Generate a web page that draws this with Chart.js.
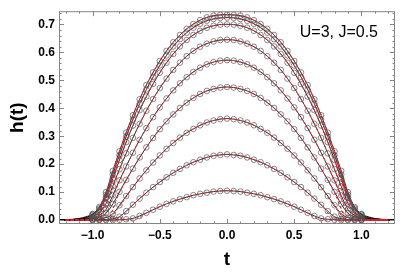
<!DOCTYPE html>
<html>
<head>
<meta charset="utf-8">
<script src="https://cdn.jsdelivr.net/npm/chart.js@4.4.1/dist/chart.umd.min.js"></script>
<style>
html, body { margin: 0; padding: 0; background: #fff; }
</style>
</head>
<body>
<canvas id="chart" width="407" height="272"></canvas>
<script>
// t grids: fine one for the black curves and circles, coarse one for the red dashed curves
const tFine = [-1.25, -1.2, -1.15, -1.1, -1.05, -1.0, -0.95, -0.9, -0.85, -0.8, -0.75, -0.7, -0.65, -0.6, -0.55, -0.5, -0.45, -0.4, -0.35, -0.3, -0.25, -0.2, -0.15, -0.1, -0.05, 0,
  0.05, 0.1, 0.15, 0.2, 0.25, 0.3, 0.35, 0.4, 0.45, 0.5, 0.55, 0.6, 0.65, 0.7, 0.75, 0.8, 0.85, 0.9, 0.95, 1.0, 1.05, 1.1, 1.15, 1.2, 1.25];
const tCoarse = [-1.2, -1.1, -1.0, -0.9, -0.8, -0.7, -0.6, -0.5, -0.4, -0.3, -0.2, -0.1, 0, 0.1, 0.2, 0.3, 0.4, 0.5, 0.6, 0.7, 0.8, 0.9, 1.0, 1.1, 1.2];

// black curves h(t), top to bottom
const h1 = [0, 0.001, 0.003, 0.006, 0.012, 0.022, 0.047, 0.100, 0.176, 0.246, 0.313, 0.375, 0.432, 0.483, 0.528, 0.569, 0.605, 0.636, 0.662, 0.684, 0.701, 0.715, 0.725, 0.731, 0.734, 0.735, 0.734, 0.731, 0.725, 0.715, 0.701, 0.684, 0.662, 0.636, 0.605, 0.569, 0.528, 0.483, 0.432, 0.375, 0.313, 0.246, 0.176, 0.100, 0.047, 0.022, 0.012, 0.006, 0.003, 0.001, 0];
const h2 = [0, 0.001, 0.002, 0.005, 0.010, 0.020, 0.042, 0.090, 0.163, 0.232, 0.299, 0.360, 0.416, 0.467, 0.512, 0.553, 0.589, 0.621, 0.647, 0.670, 0.688, 0.702, 0.713, 0.719, 0.723, 0.724, 0.723, 0.719, 0.713, 0.702, 0.688, 0.670, 0.647, 0.621, 0.589, 0.553, 0.512, 0.467, 0.416, 0.360, 0.299, 0.232, 0.163, 0.090, 0.042, 0.020, 0.010, 0.005, 0.002, 0.001, 0];
const h3 = [0, 0.001, 0.002, 0.004, 0.008, 0.017, 0.037, 0.080, 0.149, 0.215, 0.279, 0.338, 0.393, 0.442, 0.487, 0.527, 0.563, 0.594, 0.621, 0.644, 0.662, 0.677, 0.688, 0.695, 0.699, 0.700, 0.699, 0.695, 0.688, 0.677, 0.662, 0.644, 0.621, 0.594, 0.563, 0.527, 0.487, 0.442, 0.393, 0.338, 0.279, 0.215, 0.149, 0.080, 0.037, 0.017, 0.008, 0.004, 0.002, 0.001, 0];
const h4 = [0, 0, 0.001, 0.003, 0.006, 0.013, 0.028, 0.060, 0.121, 0.182, 0.239, 0.294, 0.344, 0.391, 0.433, 0.472, 0.506, 0.537, 0.563, 0.586, 0.605, 0.620, 0.631, 0.639, 0.644, 0.645, 0.644, 0.639, 0.631, 0.620, 0.605, 0.586, 0.563, 0.537, 0.506, 0.472, 0.433, 0.391, 0.344, 0.294, 0.239, 0.182, 0.121, 0.060, 0.028, 0.013, 0.006, 0.003, 0.001, 0, 0];
const h5 = [0, 0, 0.001, 0.002, 0.004, 0.008, 0.017, 0.038, 0.088, 0.142, 0.192, 0.241, 0.287, 0.329, 0.368, 0.403, 0.435, 0.464, 0.489, 0.511, 0.530, 0.545, 0.557, 0.565, 0.570, 0.572, 0.570, 0.565, 0.557, 0.545, 0.530, 0.511, 0.489, 0.464, 0.435, 0.403, 0.368, 0.329, 0.287, 0.241, 0.192, 0.142, 0.088, 0.038, 0.017, 0.008, 0.004, 0.002, 0.001, 0, 0];
const h6 = [0, 0, 0, 0.001, 0.002, 0.005, 0.011, 0.025, 0.057, 0.101, 0.144, 0.184, 0.224, 0.260, 0.294, 0.325, 0.353, 0.378, 0.401, 0.420, 0.437, 0.451, 0.462, 0.469, 0.474, 0.476, 0.474, 0.469, 0.462, 0.451, 0.437, 0.420, 0.401, 0.378, 0.353, 0.325, 0.294, 0.260, 0.224, 0.184, 0.144, 0.101, 0.057, 0.025, 0.011, 0.005, 0.002, 0.001, 0, 0, 0];
const h7 = [0, 0, 0, 0, 0.001, 0.002, 0.004, 0.009, 0.022, 0.053, 0.086, 0.118, 0.149, 0.178, 0.206, 0.231, 0.255, 0.276, 0.295, 0.312, 0.326, 0.339, 0.349, 0.356, 0.361, 0.363, 0.361, 0.356, 0.349, 0.339, 0.326, 0.312, 0.295, 0.276, 0.255, 0.231, 0.206, 0.178, 0.149, 0.118, 0.086, 0.053, 0.022, 0.009, 0.004, 0.002, 0.001, 0, 0, 0, 0];
const h8 = [0, 0, 0, 0, 0, 0, 0.001, 0.002, 0.005, 0.012, 0.032, 0.055, 0.077, 0.098, 0.118, 0.136, 0.153, 0.169, 0.183, 0.196, 0.207, 0.216, 0.224, 0.230, 0.233, 0.235, 0.233, 0.230, 0.224, 0.216, 0.207, 0.196, 0.183, 0.169, 0.153, 0.136, 0.118, 0.098, 0.077, 0.055, 0.032, 0.012, 0.005, 0.002, 0.001, 0, 0, 0, 0, 0, 0];
const h9 = [0, 0, 0, 0, 0, 0, 0, 0, 0, 0.001, 0.003, 0.006, 0.015, 0.026, 0.037, 0.048, 0.058, 0.067, 0.075, 0.082, 0.089, 0.094, 0.098, 0.102, 0.104, 0.105, 0.104, 0.102, 0.098, 0.094, 0.089, 0.082, 0.075, 0.067, 0.058, 0.048, 0.037, 0.026, 0.015, 0.006, 0.003, 0.001, 0, 0, 0, 0, 0, 0, 0, 0, 0];

// red dashed curves (cut to zero at their edge)
const r1 = [0, 0, 0, 0.094, 0.246, 0.375, 0.483, 0.569, 0.636, 0.684, 0.715, 0.731, 0.735, 0.731, 0.715, 0.684, 0.636, 0.569, 0.483, 0.375, 0.246, 0.094, 0, 0, 0];
const r2 = [0, 0, 0, 0.083, 0.232, 0.360, 0.467, 0.553, 0.621, 0.670, 0.702, 0.719, 0.724, 0.719, 0.702, 0.670, 0.621, 0.553, 0.467, 0.360, 0.232, 0.083, 0, 0, 0];
const r3 = [0, 0, 0, 0.071, 0.215, 0.338, 0.442, 0.527, 0.594, 0.644, 0.677, 0.695, 0.700, 0.695, 0.677, 0.644, 0.594, 0.527, 0.442, 0.338, 0.215, 0.071, 0, 0, 0];
const r4 = [0, 0, 0, 0.050, 0.180, 0.294, 0.391, 0.472, 0.537, 0.586, 0.620, 0.639, 0.645, 0.639, 0.620, 0.586, 0.537, 0.472, 0.391, 0.294, 0.180, 0.050, 0, 0, 0];
const r5 = [0, 0, 0, 0.025, 0.140, 0.241, 0.329, 0.403, 0.464, 0.511, 0.545, 0.565, 0.572, 0.565, 0.545, 0.511, 0.464, 0.403, 0.329, 0.241, 0.140, 0.025, 0, 0, 0];
const r6 = [0, 0, 0, 0, 0.098, 0.184, 0.260, 0.325, 0.378, 0.420, 0.451, 0.469, 0.476, 0.469, 0.451, 0.420, 0.378, 0.325, 0.260, 0.184, 0.098, 0, 0, 0, 0];
const r7 = [0, 0, 0, 0, 0.049, 0.118, 0.178, 0.231, 0.276, 0.312, 0.339, 0.356, 0.363, 0.356, 0.339, 0.312, 0.276, 0.231, 0.178, 0.118, 0.049, 0, 0, 0, 0];
const r8 = [0, 0, 0, 0, 0.005, 0.054, 0.098, 0.136, 0.169, 0.196, 0.216, 0.230, 0.235, 0.230, 0.216, 0.196, 0.169, 0.136, 0.098, 0.054, 0.005, 0, 0, 0, 0];
const r9 = [0, 0, 0, 0, 0, 0, 0.025, 0.048, 0.067, 0.082, 0.094, 0.102, 0.105, 0.102, 0.094, 0.082, 0.067, 0.048, 0.025, 0, 0, 0, 0, 0, 0];

const xTicks = [-1.0, -0.5, 0.0, 0.5, 1.0];
const yTicks = [0.0, 0.1, 0.2, 0.3, 0.4, 0.5, 0.6, 0.7];
const note = 'U=3, J=0.5';

const blackCurves = [h1, h2, h3, h4, h5, h6, h7, h8, h9];
const redCurves = [r1, r2, r3, r4, r5, r6, r7, r8, r9];

const FONT = '"Liberation Sans", Arial, sans-serif';

let datasets = [];
blackCurves.forEach((h, k) => {
    let pts = tFine.map((t, i) => ({x: t, y: h[i]}));
    let red = tCoarse.map((t, i) => ({x: t, y: redCurves[k][i]}));
    datasets.push({
        data: pts,
        showLine: false,
        pointRadius: c => Math.abs(c.raw.x) <= 1.0001 ? 2.8 : 0,
        pointBorderColor: 'rgba(80,80,80,0.85)',
        pointBackgroundColor: 'rgba(0,0,0,0)',
        pointBorderWidth: 0.8,
        order: 0
    });
    datasets.push({
        data: red,
        showLine: true,
        borderColor: '#ee1c24',
        borderWidth: 1,
        borderDash: [3, 2],
        pointRadius: 0,
        cubicInterpolationMode: 'monotone',
        order: 1
    });
    datasets.push({
        data: pts,
        showLine: true,
        borderColor: '#000',
        borderWidth: 0.8,
        pointRadius: 0,
        cubicInterpolationMode: 'monotone',
        order: 2
    });
});

function fmt(v) {
    return (v < 0 ? '\u2212' : '') + Math.abs(v).toFixed(1);
}

// frame with inward ticks on all four sides, plus the U,J note
const framePlugin = {
    id: 'frame',
    afterDatasetsDraw(chart) {
        const {ctx, chartArea: a, scales: {x, y}} = chart;
        ctx.save();
        ctx.strokeStyle = '#858585';
        ctx.lineWidth = 1;
        ctx.strokeRect(a.left + 0.5, a.top + 0.5, a.right - a.left - 1, a.bottom - a.top - 1);
        ctx.beginPath();
        for (let i = -12; i <= 12; i++) {
            let px = Math.round(x.getPixelForValue(i / 10)) + 0.5;
            let len = i % 5 === 0 ? 5 : 2.5;
            ctx.moveTo(px, a.bottom); ctx.lineTo(px, a.bottom - len);
            ctx.moveTo(px, a.top); ctx.lineTo(px, a.top + len);
        }
        for (let i = 0; i <= 37; i++) {
            let py = Math.round(y.getPixelForValue(i / 50)) + 0.5;
            let len = i % 5 === 0 ? 5 : 2.5;
            ctx.moveTo(a.left, py); ctx.lineTo(a.left + len, py);
            ctx.moveTo(a.right, py); ctx.lineTo(a.right - len, py);
        }
        ctx.stroke();
        ctx.fillStyle = '#000';
        ctx.font = '16px ' + FONT;
        ctx.textAlign = 'right';
        ctx.textBaseline = 'middle';
        ctx.fillText(note, a.right - 17, a.top + 21);
        ctx.restore();
    }
};

new Chart(document.getElementById('chart'), {
    type: 'scatter',
    data: {datasets},
    options: {
        responsive: false,
        animation: false,
        devicePixelRatio: 1,
        layout: {padding: {top: 2, right: 12, left: 0, bottom: 0}},
        plugins: {legend: {display: false}, tooltip: {enabled: false}},
        scales: {
            x: {
                type: 'linear', min: -1.25, max: 1.25,
                afterBuildTicks: s => { s.ticks = xTicks.map(v => ({value: v})); },
                afterFit: s => { s.height = 48; },
                ticks: {callback: v => fmt(v), color: '#000', padding: 4, maxRotation: 0, autoSkip: false,
                    font: {family: FONT, size: 12, weight: 'bold'}},
                grid: {display: false, drawTicks: false},
                border: {display: false},
                title: {display: true, text: 't', color: '#000', padding: {top: 0, bottom: 3},
                    font: {family: FONT, size: 19, weight: 'bold', lineHeight: 1}}
            },
            y: {
                type: 'linear', min: -0.014, max: 0.747,
                afterBuildTicks: s => { s.ticks = yTicks.map(v => ({value: v})); },
                afterFit: s => { s.width = 59; },
                ticks: {callback: v => fmt(v), color: '#000', padding: 4, autoSkip: false,
                    font: {family: FONT, size: 12, weight: 'bold'}},
                grid: {display: false, drawTicks: false},
                border: {display: false},
                title: {display: true, text: 'h(t)', color: '#000', padding: {top: 8, bottom: 0},
                    font: {family: FONT, size: 19, weight: 'bold', lineHeight: 1}}
            }
        }
    },
    plugins: [framePlugin]
});
</script>
</body>
</html>
